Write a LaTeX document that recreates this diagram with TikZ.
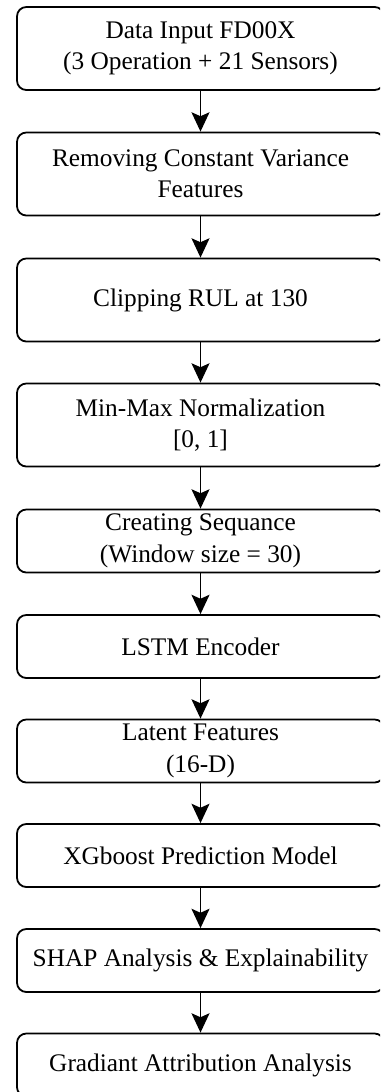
\documentclass[tikz,border=0pt]{standalone}
\usepackage{fontspec}
\setmainfont{Liberation Serif}
\usetikzlibrary{arrows.meta}
\begin{document}
\begin{tikzpicture}[x=0.75pt,y=-0.75pt,
  procbox/.style={draw=black, line width=1.35pt, rounded corners=7pt, fill=white,
    minimum width=275.25pt, align=center, inner sep=0pt,
    font=\fontsize{19}{23.6}\selectfont},
  tallbox/.style={procbox, minimum height=62.25pt},
  shortbox/.style={procbox, minimum height=47.25pt},
  flow/.style={line width=1.35pt, -{Stealth[length=14.5pt,width=13.5pt,inset=3pt]}}]
\useasboundingbox (0,0) rectangle (380,1092);
\clip (0,0) rectangle (380,1092);
\node[tallbox]  (b1)  at (200.5,48.5)  {Data Input FD00X\\(3 Operation + 21 Sensors)};
\node[tallbox]  (b2)  at (200.5,174)   {Removing Constant Variance\\Features};
\node[tallbox]  (b3)  at (200.5,300)   {Clipping RUL at 130};
\node[tallbox]  (b4)  at (200.5,425)   {Min-Max Normalization\\{}[0, 1]};
\node[shortbox] (b5)  at (200.5,541)   {Creating Sequance\\(Window size = 30)};
\node[shortbox] (b6)  at (200.5,646.5) {LSTM Encoder};
\node[shortbox] (b7)  at (200.5,751)   {Latent Features\\(16-D)};
\node[shortbox] (b8)  at (200.5,855.5) {XGboost Prediction Model};
\node[shortbox] (b9)  at (200.5,960.5) {SHAP Analysis \& Explainability};
\node[shortbox] (b10) at (200.5,1065)  {Gradiant Attribution Analysis};
\foreach \a/\b in {b1/b2,b2/b3,b3/b4,b4/b5,b5/b6,b6/b7,b7/b8,b8/b9,b9/b10}
  \draw[flow] (\a.south) -- (\b.north);
\end{tikzpicture}
\end{document}
